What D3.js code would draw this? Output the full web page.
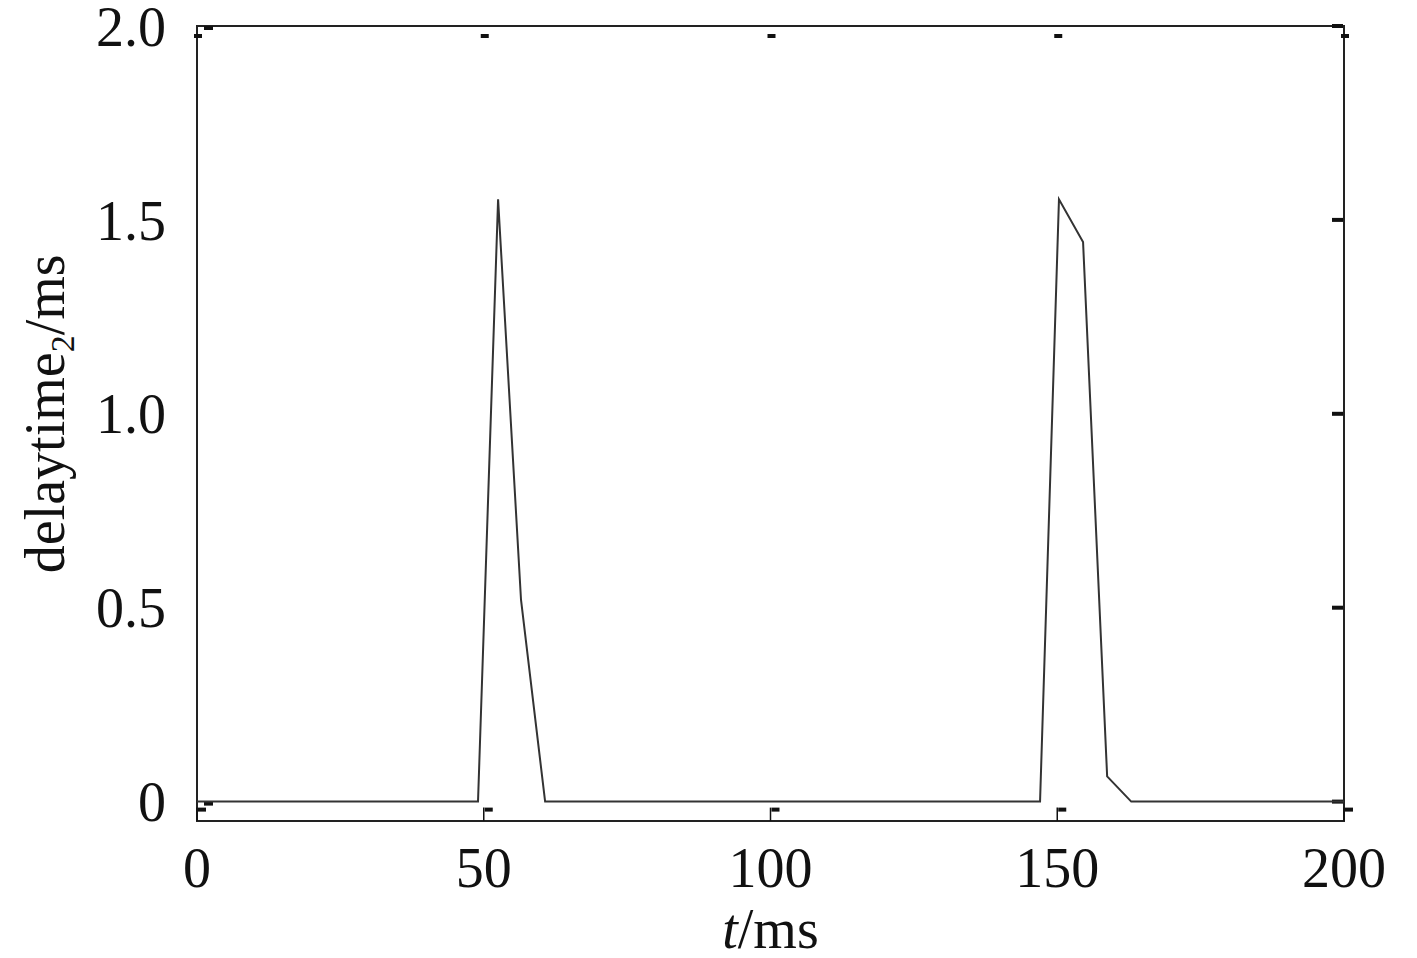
<!DOCTYPE html>
<meta charset="utf-8">
<title>delaytime2</title>
<body style="margin:0;background:#fff;"></body>
<div id="chart"></div>
<script src="https://d3js.org/d3.v7.min.js"></script>
<script>
  // data
  const tValues = [0, 49.0, 52.5, 56.5, 60.7, 147.0, 150.3, 154.5, 158.7, 162.9, 200];
  const delayValues = [0, 0, 1.553, 0.52, 0, 0, 1.553, 1.443, 0.065, 0, 0];
  const xTicks = [0, 50, 100, 150, 200];
  const yTicks = [0, 0.5, 1.0, 1.5, 2.0];
  const yTickLabels = ["0", "0.5", "1.0", "1.5", "2.0"];

  const W = 1417, H = 958;
  const margin = {top: 26, right: 73, bottom: 137, left: 197};
  const width = W - margin.left - margin.right,
        height = H - margin.top - margin.bottom;

  const svg = d3.select("#chart").append("svg")
      .attr("width", W).attr("height", H)
      .style("font-family", "'Liberation Serif', 'Times New Roman', serif");
  const g = svg.append("g").attr("transform", `translate(${margin.left},${margin.top})`);

  const x = d3.scaleLinear().domain([0, 200]).range([0, width]);
  const y = d3.scaleLinear().domain([-0.05, 2.0]).range([height, 0]);

  // frame
  g.append("rect").attr("width", width).attr("height", height)
    .attr("fill", "none").attr("stroke", "#222").attr("stroke-width", 2);

  // tick labels
  g.selectAll(".xl").data(xTicks).join("text")
    .attr("x", d => x(d)).attr("y", height + 66)
    .attr("text-anchor", "middle").attr("font-size", 56).attr("fill", "#111")
    .text(d => d);
  g.selectAll(".yl").data(yTicks).join("text")
    .attr("x", -31).attr("y", d => y(d)).attr("dy", "0.35em")
    .attr("text-anchor", "end").attr("font-size", 56).attr("fill", "#111")
    .text((d, i) => yTickLabels[i]);

  // small inside ticks
  const tk = g.append("g").attr("fill", "#111");
  tk.selectAll(".tt").data(xTicks).join("rect")
    .attr("x", d => x(d) - 3).attr("y", 8).attr("width", 8).attr("height", 4);
  tk.selectAll(".tb").data(xTicks).join("rect")
    .attr("x", d => x(d) + 1).attr("y", y(0) + 6).attr("width", 8).attr("height", 4);
  tk.selectAll(".tbl").data(xTicks).join("line")
    .attr("x1", d => x(d)).attr("x2", d => x(d))
    .attr("y1", y(0) + 6).attr("y2", height)
    .attr("stroke", "#111").attr("stroke-width", 1.5);
  tk.selectAll(".tr").data(yTicks).join("rect")
    .attr("x", width - 12).attr("y", d => y(d) - 2).attr("width", 11).attr("height", 4);
  tk.selectAll(".tl").data([0, 2.0]).join("rect")
    .attr("x", 7).attr("y", d => y(d)).attr("width", 9).attr("height", 4);

  // the series
  const line = d3.line().x(d => x(d[0])).y(d => y(d[1]));
  g.append("path")
    .datum(tValues.map((t, i) => [t, delayValues[i]]))
    .attr("fill", "none").attr("stroke", "#333").attr("stroke-width", 2)
    .attr("d", line);

  // axis titles
  const xt = svg.append("text")
    .attr("x", margin.left + width / 2).attr("y", 948)
    .attr("text-anchor", "middle").attr("font-size", 56).attr("fill", "#111");
  xt.append("tspan").attr("font-style", "italic").text("t");
  xt.append("tspan").text("/ms");

  const yt = svg.append("text")
    .attr("transform", `translate(64,${margin.top + y(1.0)}) rotate(-90)`)
    .attr("text-anchor", "middle").attr("font-size", 56).attr("fill", "#111");
  yt.append("tspan").text("delaytime");
  yt.append("tspan").attr("font-size", 34).attr("dy", 10).text("2");
  yt.append("tspan").attr("dy", -10).text("/ms");
</script>
